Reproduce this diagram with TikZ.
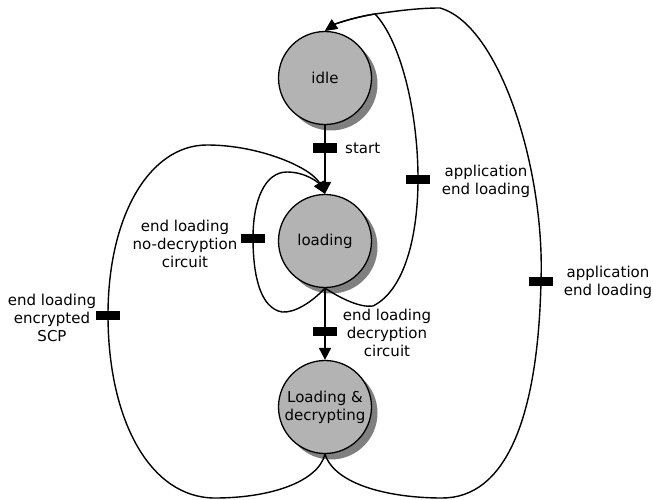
\documentclass[tikz,border=0pt]{standalone}
\usepackage{fontspec}
\setmainfont{DejaVu Sans}
\usetikzlibrary{arrows.meta,shadows}

\definecolor{stategray}{RGB}{179,179,179}
\definecolor{shadowgray}{RGB}{128,128,128}

\tikzset{
  state/.style={circle,draw,line width=1.3pt,fill=stategray,minimum size=93pt,inner sep=0pt,align=center,
    font=\fontsize{15}{18}\selectfont,
    drop shadow={shadow xshift=6pt,shadow yshift=-6pt,fill=shadowgray,opacity=1}},
  bar/.style={fill=black,minimum width=24pt,minimum height=9pt,inner sep=0pt},
  lbl/.style={align=center,font=\fontsize{15}{18}\selectfont,inner sep=0pt},
  trans/.style={line width=2pt,-{Triangle[length=12pt,width=12pt]}},
  arc/.style={line width=1.4pt,-{Triangle[length=12pt,width=11pt]}}
}

\begin{document}
\begin{tikzpicture}[x=1pt,y=1pt,yscale=-1,xscale=1]
\useasboundingbox (0,0) rectangle (653,500);

%States
\node[state] (idle) at (325,78) {idle};
\node[state] (load) at (325,241) {loading};
\node[state] (ldec) at (325,407) {Loading \&\\decrypting};

%Transition bars
\node[bar] (bstart) at (325,148) {};
\node[bar] (bdec) at (325,331) {};
\node[bar] (bself) at (253,238) {};
\node[bar] (benc) at (108,315) {};
\node[bar] (bapp) at (418,179) {};
\node[bar] (bappout) at (541,281) {};

%Straight transitions
\draw[trans] (idle) -- (load);
\draw[trans] (load) -- (ldec);

%Self loop on loading
\draw[arc] (load.south) .. controls (312,302) and (295,313) .. (282,312) .. controls (260,308) and (253,275) .. (bself.center) .. controls (253,200) and (265,172) .. (287,172) .. controls (305,172) and (318,182) .. (load.north);
%Loop back from Loading & decrypting
\draw[arc] (ldec.south) .. controls (318,482) and (270,498) .. (215,498) .. controls (150,498) and (108,420) .. (benc.center) .. controls (108,215) and (150,145) .. (207,145) .. controls (260,145) and (312,168) .. (load.north);
%Back to idle from loading
\draw[arc] (load.south) .. controls (340,298) and (360,308) .. (373,306) .. controls (405,290) and (418,235) .. (bapp.center) .. controls (418,110) and (400,40) .. (375,14) .. controls (355,17) and (335,24) .. (idle.north);
%Back to idle from Loading & decrypting
\draw[arc] (ldec.south) .. controls (335,485) and (390,498) .. (442,498) .. controls (505,498) and (538,420) .. (bappout.center) .. controls (545,170) and (500,25) .. (440,8) .. controls (415,8) and (390,12) .. (375,14) .. controls (355,17) and (335,24) .. (idle.north);

% Text Node
\node[lbl,anchor=west] (tstart) at (345,148) {start};
% Text Node
\node[lbl] (tdec) at (387,333) {end loading\\decryption\\circuit};
% Text Node
\node[lbl] (tself) at (185,244) {end loading\\no-decryption\\circuit};
% Text Node
\node[lbl] (tenc) at (52,318) {end loading\\encrypted\\SCP};
% Text Node
\node[lbl] (tapp) at (486,181) {application\\end loading};
% Text Node
\node[lbl] (tappout) at (608,282) {application\\end loading};
\end{tikzpicture}
\end{document}
